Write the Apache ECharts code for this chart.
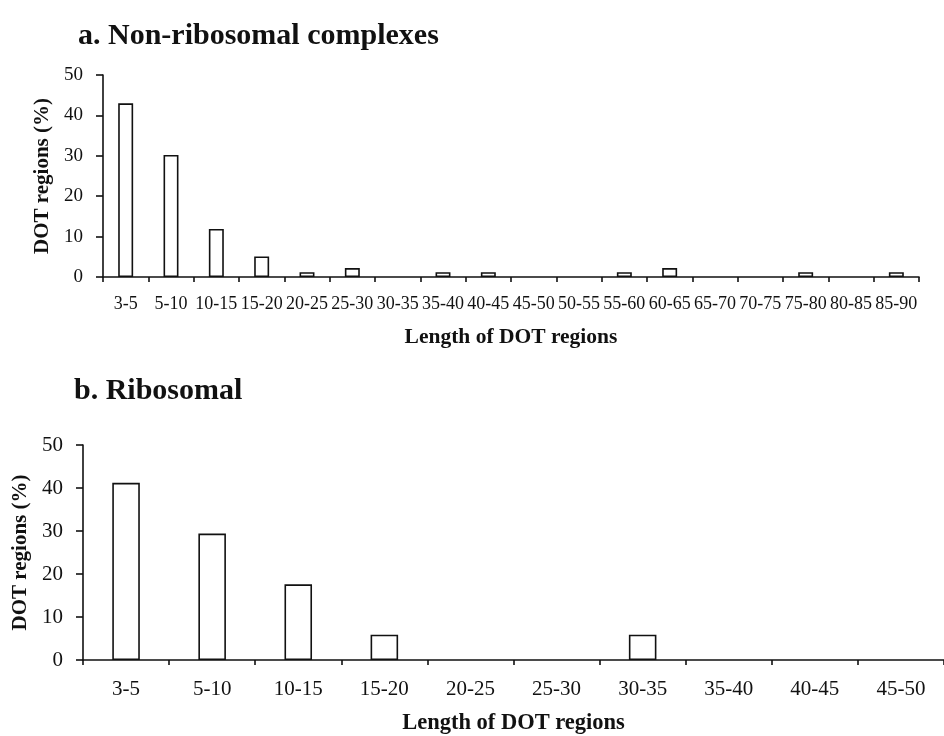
<!DOCTYPE html>
<html>
<head>
<meta charset="utf-8">
<script src="https://cdn.jsdelivr.net/npm/echarts@6/dist/echarts.min.js"></script>
<style>
  html, body { margin: 0; padding: 0; background: #fff; }
  #chart { width: 944px; height: 736px; }
</style>
</head>
<body>
<div id="chart"></div>
<script>
// panel a: non-ribosomal complexes
const lengthsA = ['3-5', '5-10', '10-15', '15-20', '20-25', '25-30', '30-35', '35-40', '40-45',
  '45-50', '50-55', '55-60', '60-65', '65-70', '70-75', '75-80', '80-85', '85-90']
const percentA = [43, 30.2, 11.9, 5.1, 1.2, 2.2, 0, 1.2, 1.2, 0, 0, 1.2, 2.2, 0, 0, 1.2, 0, 1.2]

// panel b: ribosomal
const lengthsB = ['3-5', '5-10', '10-15', '15-20', '20-25', '25-30', '30-35', '35-40', '40-45', '45-50']
const percentB = [41.2, 29.4, 17.6, 5.9, 0, 0, 5.9, 0, 0, 0]

const yTicks = { min: 0, max: 50, interval: 10 }

const FONT = 'Liberation Serif'
const INK = '#111'

const chart = echarts.init(document.getElementById('chart'), null, { renderer: 'canvas' })

// empty bins have no bar in the original, so skip them
const bars = vals => vals.map(v => (v === 0 ? '-' : v))

const xAxisBase = (idx, data, size, nameSize, labelMargin, nameGap) => ({
  type: 'category',
  gridIndex: idx,
  data: data,
  name: 'Length of DOT regions',
  nameLocation: 'middle',
  nameGap: nameGap,
  nameTextStyle: { fontFamily: FONT, fontWeight: 'bold', fontSize: nameSize, color: INK },
  axisLine: { lineStyle: { color: INK, width: 1.6 } },
  axisTick: { show: true, length: 5, lineStyle: { color: INK, width: 1.6 } },
  axisLabel: { interval: 0, margin: labelMargin, fontFamily: FONT, fontSize: size, color: INK },
  splitLine: { show: false }
})

const yAxisBase = (idx, size, nameSize, nameGap) => ({
  type: 'value',
  gridIndex: idx,
  min: yTicks.min,
  max: yTicks.max,
  interval: yTicks.interval,
  name: 'DOT regions (%)',
  nameLocation: 'middle',
  nameGap: nameGap,
  nameTextStyle: { fontFamily: FONT, fontWeight: 'bold', fontSize: nameSize, color: INK },
  axisLine: { show: true, lineStyle: { color: INK, width: 1.6 } },
  axisTick: { show: true, length: 7, lineStyle: { color: INK, width: 1.6 } },
  axisLabel: { margin: 20, fontFamily: FONT, fontSize: size, color: INK },
  splitLine: { show: false }
})

const barStyle = {
  color: '#fff',
  borderColor: INK,
  borderWidth: 1.6
}

chart.setOption({
  backgroundColor: '#fff',
  animation: false,
  title: [
    {
      text: 'a. Non-ribosomal complexes',
      left: 73,
      top: 16,
      textStyle: { fontFamily: FONT, fontWeight: 'bold', fontSize: 30, color: INK }
    },
    {
      text: 'b. Ribosomal',
      left: 69,
      top: 371,
      textStyle: { fontFamily: FONT, fontWeight: 'bold', fontSize: 30, color: INK }
    }
  ],
  grid: [
    { left: 103, top: 75, right: 25, height: 202 },
    { left: 83, top: 445, right: -4, height: 216 }
  ],
  xAxis: [
    xAxisBase(0, lengthsA, 18, 21.5, 18, 49),
    xAxisBase(1, lengthsB, 21, 22.5, 19, 52)
  ],
  yAxis: [
    yAxisBase(0, 19, 21, 50),
    yAxisBase(1, 21, 21, 50)
  ],
  series: [
    {
      type: 'bar',
      xAxisIndex: 0,
      yAxisIndex: 0,
      data: bars(percentA),
      barWidth: '33%',
      itemStyle: barStyle
    },
    {
      type: 'bar',
      xAxisIndex: 1,
      yAxisIndex: 1,
      data: bars(percentB),
      barWidth: '32%',
      itemStyle: barStyle
    }
  ]
})
</script>
</body>
</html>
